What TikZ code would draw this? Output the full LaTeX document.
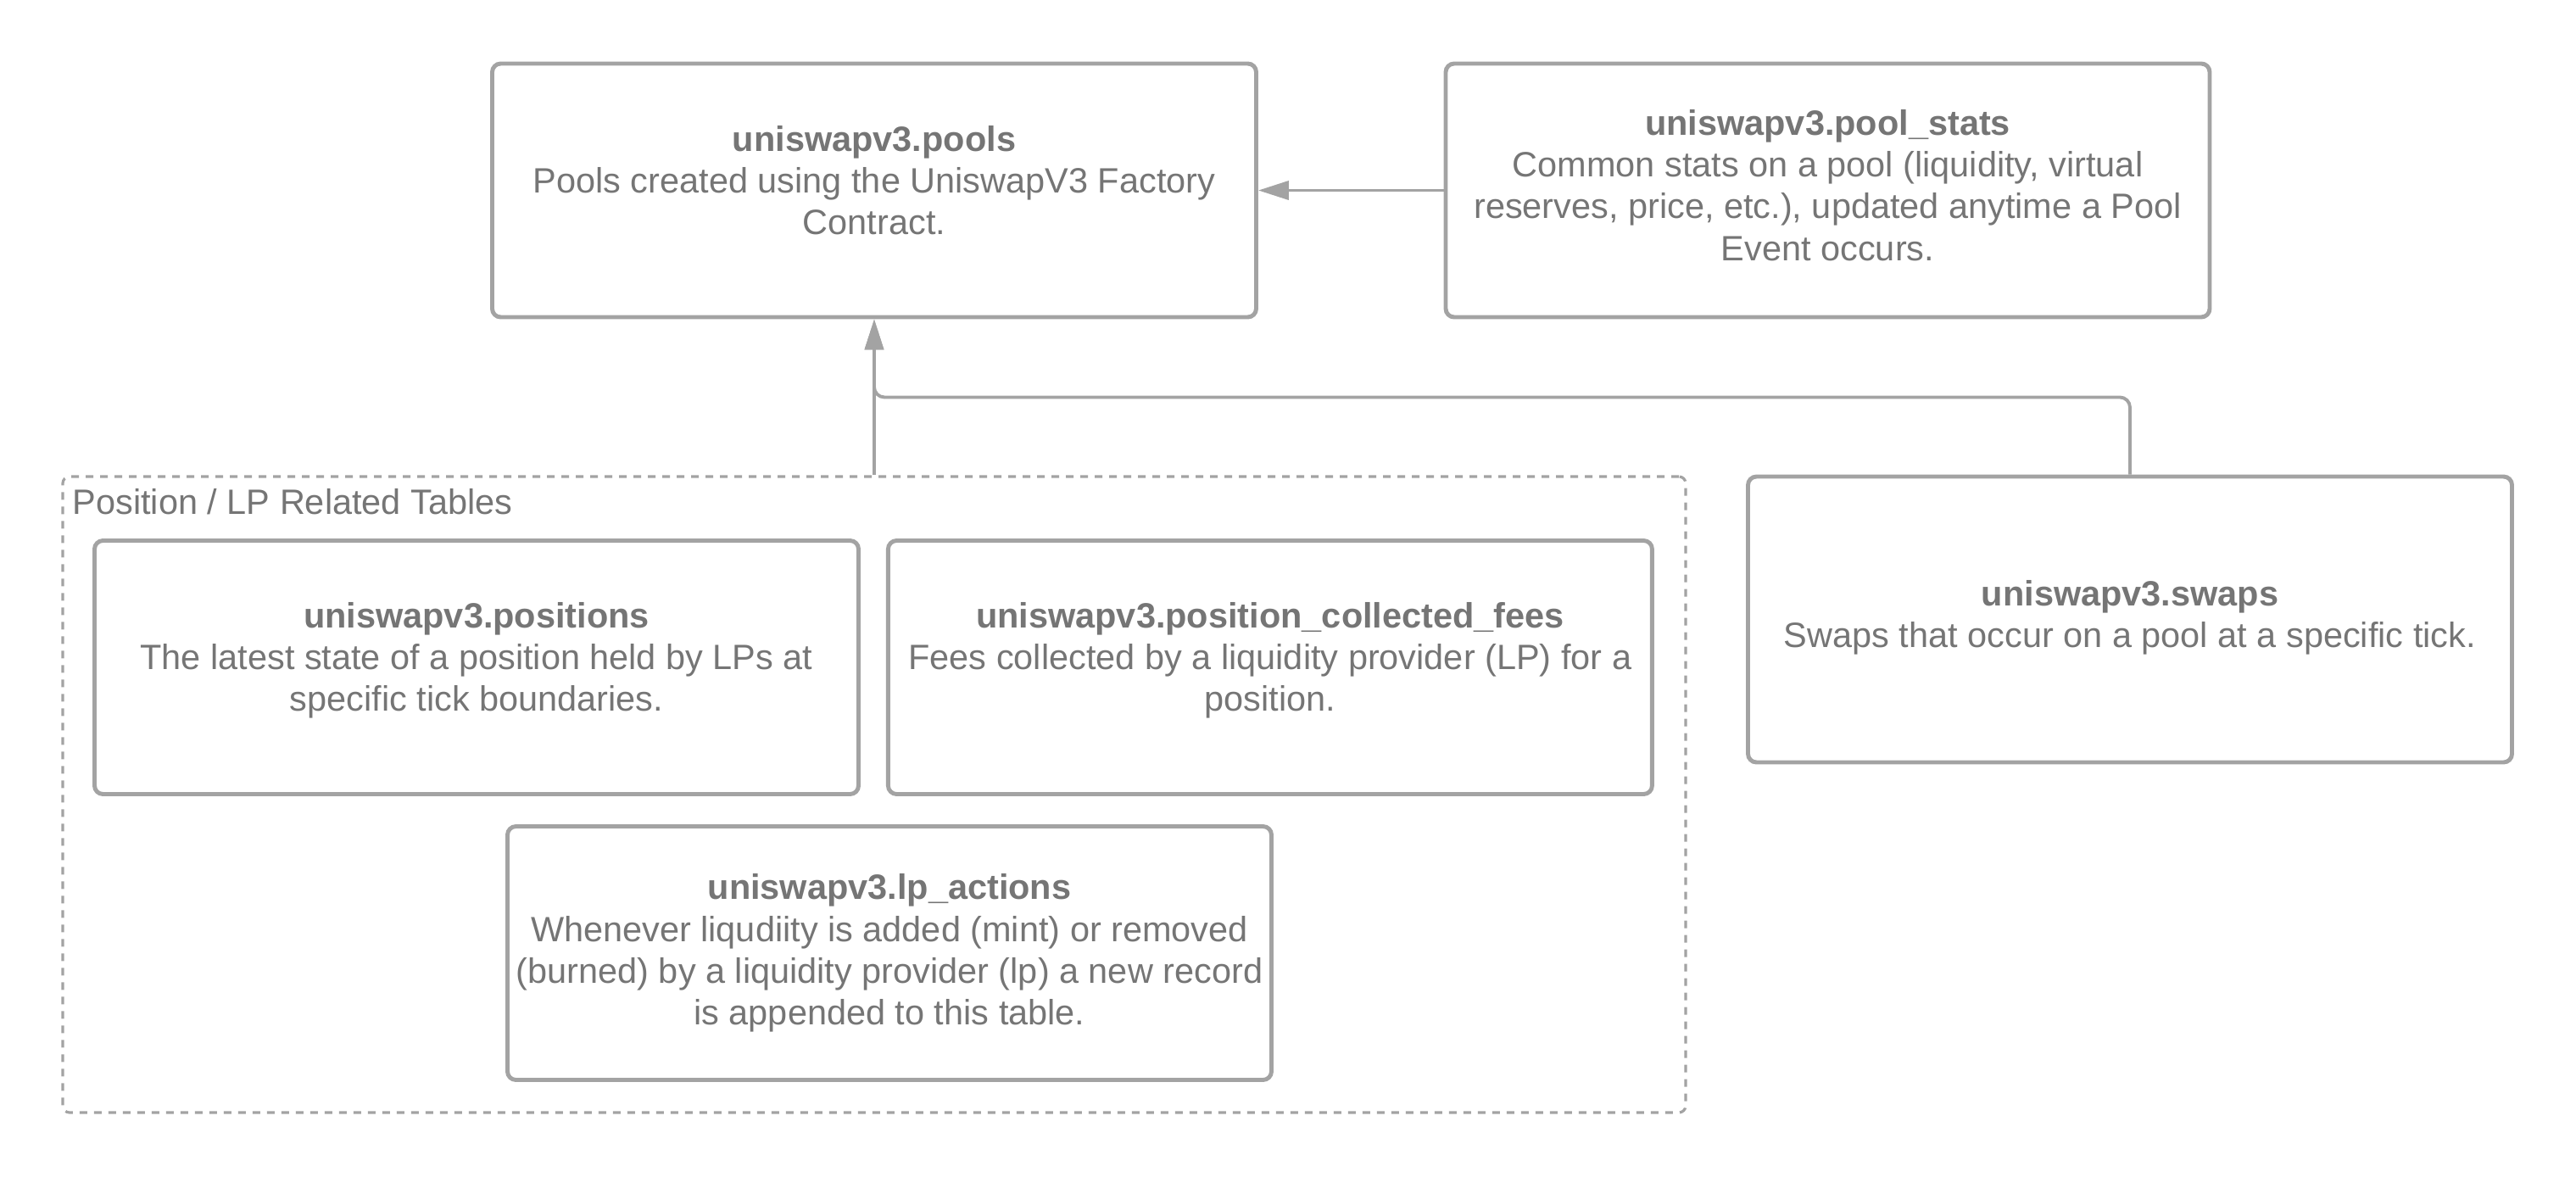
\documentclass[tikz,border=0pt]{standalone}
\usepackage{fontspec}
\setmainfont{Liberation Sans}
\usetikzlibrary{
  arrows.meta,
  positioning,  % Function "of" (e.g. [right=of x])
  calc,         % Calculations $...$
}
\definecolor{linegray}{HTML}{A3A3A3}
\definecolor{textgray}{HTML}{757575}
\newcommand{\tbl}[1]{{\bfseries #1}}
\def\mywidth{9.01cm}
\def\myheight{2.99cm}
\tikzset{
  font=\fontsize{11.8}{14}\selectfont,
  text=textgray,
  >={Triangle[length=0.36cm,width=0.22cm]},
  my table/.style={
    draw=linegray,
    line width=1.4pt,
    rounded corners=1mm,
    minimum width=\mywidth,
    minimum height=\myheight,
    inner sep=0mm
  },
  my text/.style={
    align=center,
    inner sep=0mm
  },
  my group/.style={
    draw=linegray,
    line width=0.9pt,
    dash pattern=on 0.09cm off 0.08cm,
    rounded corners=0.8mm,
    minimum width=19.14cm,
    minimum height=7.50cm,
    inner sep=0mm
  },
  my link/.style={
    color=linegray,
    line width=1.1pt,
    rounded corners=1.2mm
  }
}
\begin{document}
\begin{tikzpicture}
\useasboundingbox (0,0) rectangle (30.38,-13.88);
% top row
\node[my table] (pools) at (10.31,-2.245) {};
\node[my text] (pools text) at ([yshift=0.12cm]pools.center)
  {\tbl{uniswapv3.pools}\\Pools created using the UniswapV3 Factory\\Contract.};
\node[my table] (poolstats) at (21.555,-2.245) {};
\node[my text] (poolstats text) at ([yshift=0.06cm]poolstats.center)
  {\tbl{uniswapv3.pool\_stats}\\Common stats on a pool (liquidity, virtual\\reserves, price, etc.), updated anytime a Pool\\Event occurs.};
% position / lp group
\node[my group] (grp) at (10.31,-9.37) {};
\node[anchor=base west,inner sep=0mm] (grp label) at (0.85,-6.06) {Position / LP Related Tables};
\node[my table] (positions) at (5.62,-7.87) {};
\node[my text] (positions text) at ([yshift=0.08cm]positions.center)
  {\tbl{uniswapv3.positions}\\The latest state of a position held by LPs at\\specific tick boundaries.};
\node[my table,right=0.3cm of positions] (fees) {};
\node[my text] (fees text) at ([yshift=0.08cm]fees.center)
  {\tbl{uniswapv3.position\_collected\_fees}\\Fees collected by a liquidity provider (LP) for a\\position.};
\node[my table] (lpactions) at (10.49,-11.24) {};
\node[my text] (lpactions text) at (lpactions.center)
  {\tbl{uniswapv3.lp\_actions}\\Whenever liqudiity is added (mint) or removed\\(burned) by a liquidity provider (lp) a new record\\is appended to this table.};
% swaps
\node[my table,minimum height=3.37cm] (swaps) at (25.12,-7.305) {};
\node[my text] (swaps text) at ([yshift=0.02cm]swaps.center)
  {\tbl{uniswapv3.swaps}\\Swaps that occur on a pool at a specific tick.};
\coordinate (bend) at ($(pools.south)!0.5!(grp.north)$);
\path[my link,->] (poolstats) edge (pools)
  (grp) edge (pools);
\draw[my link,->] (swaps.north) |- (bend) -- (pools.south);
\end{tikzpicture}
\end{document}
